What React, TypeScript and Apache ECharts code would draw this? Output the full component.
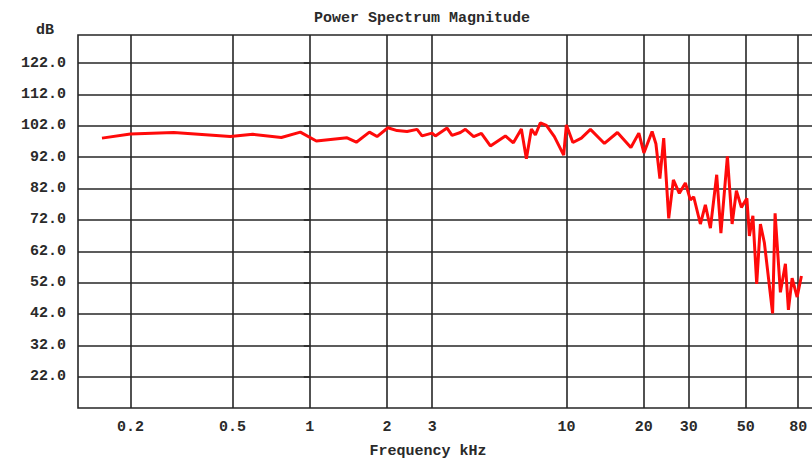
import React, { useEffect, useRef } from "react";
import * as echarts from "echarts";

const freqKHz = [
  0.155, 0.2, 0.295, 0.49, 0.6, 0.775, 0.919, 1.061, 1.398, 1.519,
  1.708, 1.829, 2.016, 2.189, 2.394, 2.619, 2.739, 2.996, 3.086, 3.428,
  3.585, 3.864, 4.041, 4.352, 4.665, 5.057, 5.784, 6.216, 6.677, 6.984,
  7.305, 7.572, 7.919, 8.357, 8.98, 9.761, 10.0, 10.6, 11.44, 12.41,
  14.07, 15.81, 17.84, 19.16, 20.05, 21.58, 22.33, 23.14, 23.95, 25.05,
  26.12, 27.56, 29.09, 30.42, 31.34, 33.28, 34.8, 36.41, 38.53, 40.01,
  42.41, 44.24, 45.98, 48.09, 50.51, 51.66, 53.31, 55.16, 57.03, 59.1,
  63.62, 65.06, 68.23, 71.37, 73.32, 75.8, 79.28, 82.4,
];
const magnitudeDb = [
  98.1, 99.4, 99.9, 98.6, 99.3, 98.3, 100.0, 97.2, 98.2, 96.8,
  100.0, 98.6, 101.4, 100.5, 100.2, 100.9, 98.8, 99.7, 98.8, 101.3,
  99.0, 99.9, 100.9, 98.6, 99.6, 95.6, 98.8, 96.6, 101.0, 91.5,
  101.0, 99.1, 103.0, 102.2, 98.6, 92.7, 102.3, 96.7, 98.1, 100.9,
  96.4, 99.9, 95.1, 99.7, 93.4, 100.2, 96.3, 85.2, 98.1, 72.5,
  84.8, 80.5, 83.8, 78.4, 79.4, 70.7, 76.8, 69.4, 86.4, 67.8,
  92.3, 70.7, 81.3, 76.0, 78.9, 66.9, 73.3, 51.6, 70.7, 64.7,
  42.2, 74.1, 48.9, 58.0, 43.3, 53.4, 47.4, 54.1,
];
const xTickKHz = [0.2, 0.5, 1, 2, 3, 10, 20, 30, 50, 80];
const yTickDb = [22, 32, 42, 52, 62, 72, 82, 92, 102, 112, 122];
const xMinKHz = 0.125;
const xMaxKHz = 100;
const yMinDb = 12;
const yMaxDb = 131;

const FONT = "'Liberation Mono', 'DejaVu Sans Mono', monospace";
const GRID_COLOR = "#262626";

export default function App() {
  const ref = useRef<HTMLDivElement>(null);

  useEffect(() => {
    if (!ref.current) return;
    const chart = echarts.init(ref.current, undefined, { renderer: "svg" });
    const lineData = freqKHz.map((f, i) => [Math.log10(f), magnitudeDb[i]]);
    const xTicks = xTickKHz.map((f) => Math.log10(f));

    chart.setOption({
      animation: false,
      backgroundColor: "#ffffff",
      grid: {
        left: 78,
        top: 35,
        width: 745,
        height: 373,
        show: true,
        borderColor: GRID_COLOR,
        borderWidth: 1.6,
        containLabel: false,
      },
      xAxis: {
        type: "value",
        min: Math.log10(xMinKHz),
        max: Math.log10(xMaxKHz),
        axisLine: { show: false },
        axisTick: { show: false, customValues: xTicks },
        splitLine: { show: true, lineStyle: { color: GRID_COLOR, width: 1.6 } },
        axisLabel: {
          customValues: xTicks,
          margin: 12,
          color: "#2a2a2a",
          fontFamily: FONT,
          fontWeight: "bold",
          fontSize: 15,
          formatter: (v: number) => String(Number(Math.pow(10, v).toPrecision(2))),
        },
      },
      yAxis: {
        type: "value",
        min: yMinDb,
        max: yMaxDb,
        interval: 10,
        axisLine: { show: false },
        axisTick: {
          show: true,
          customValues: yTickDb,
          length: 6,
          lineStyle: { color: GRID_COLOR, width: 1.6 },
        },
        splitLine: { show: true, lineStyle: { color: GRID_COLOR, width: 1.6 } },
        axisLabel: {
          customValues: yTickDb,
          margin: 12,
          color: "#2a2a2a",
          fontFamily: FONT,
          fontWeight: "bold",
          fontSize: 15,
          formatter: (v: number) => v.toFixed(1),
        },
      },
      series: [
        {
          type: "line",
          data: lineData,
          showSymbol: false,
          symbol: "none",
          lineStyle: { color: "#ff0a0a", width: 3 },
          clip: true,
        },
      ],
      graphic: [
        {
          type: "text",
          x: 422,
          y: 18,
          style: {
            text: "Power Spectrum Magnitude",
            align: "center",
            verticalAlign: "middle",
            fontFamily: FONT,
            fontWeight: "bold",
            fontSize: 15,
            fill: "#2a2a2a",
          },
        },
        {
          type: "text",
          x: 45,
          y: 30,
          style: {
            text: "dB",
            align: "center",
            verticalAlign: "middle",
            fontFamily: FONT,
            fontWeight: "bold",
            fontSize: 15,
            fill: "#2a2a2a",
          },
        },
        {
          type: "text",
          x: 428,
          y: 451,
          style: {
            text: "Frequency kHz",
            align: "center",
            verticalAlign: "middle",
            fontFamily: FONT,
            fontWeight: "bold",
            fontSize: 15,
            fill: "#2a2a2a",
          },
        },
      ],
    });
    return () => chart.dispose();
  }, []);

  return (
    <div
      style={{
        position: "fixed",
        left: 0,
        top: 0,
        width: 812,
        height: 461,
        overflow: "hidden",
        background: "#ffffff",
      }}
    >
      <div ref={ref} style={{ width: 840, height: 461 }} />
    </div>
  );
}
